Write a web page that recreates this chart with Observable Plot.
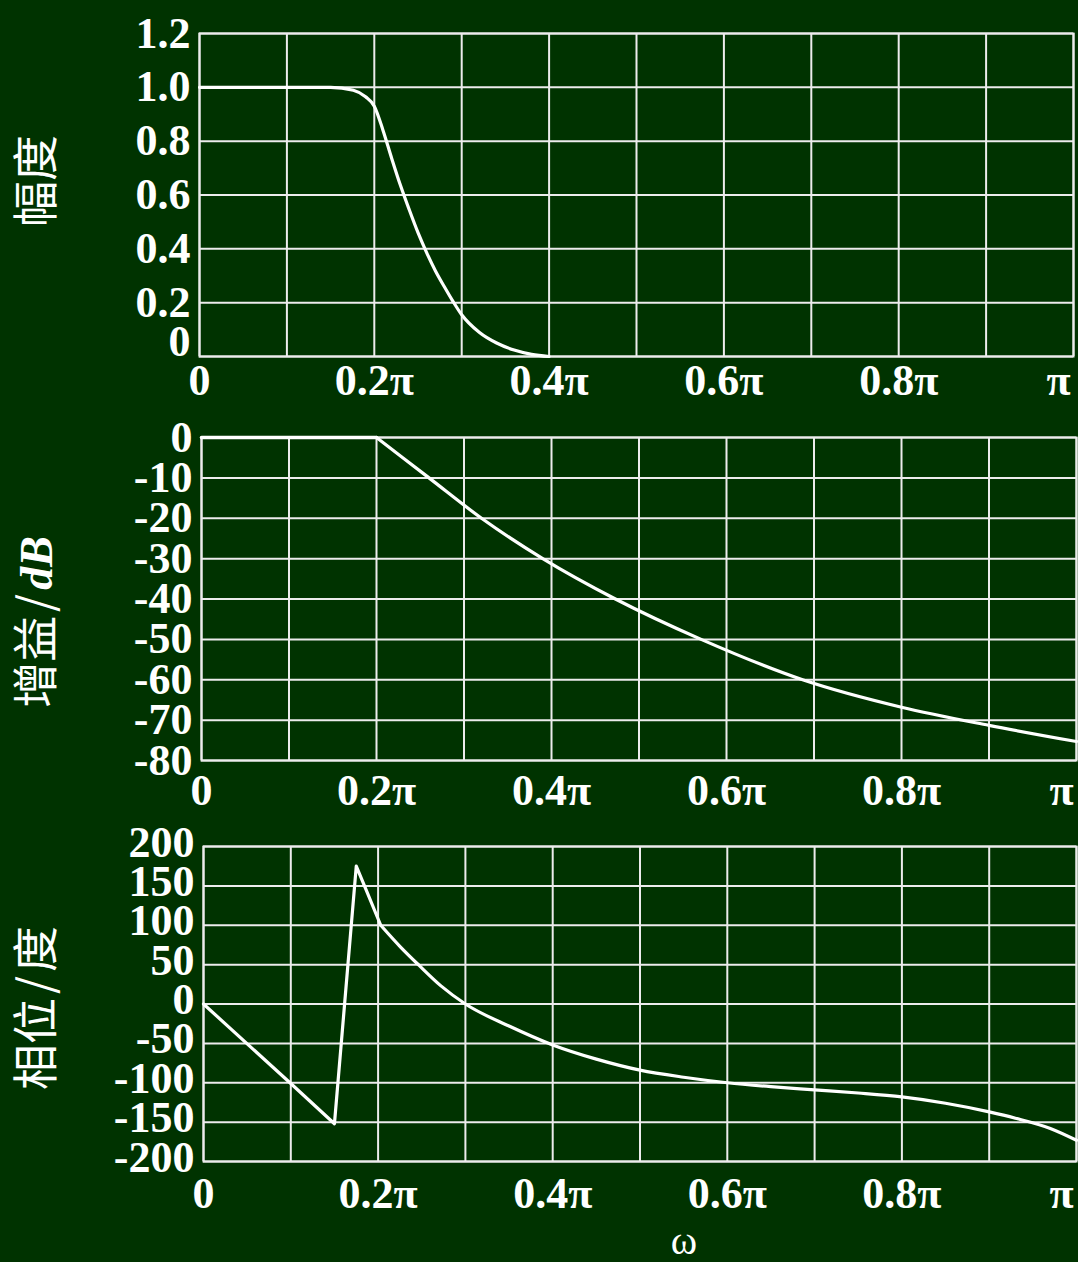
<!DOCTYPE html>
<html>
<head>
<meta charset="utf-8">
<script src="https://cdn.jsdelivr.net/npm/d3@7"></script>
<script src="https://cdn.jsdelivr.net/npm/@observablehq/plot@0.6"></script>
<style>
  html, body { margin: 0; padding: 0; background: #003300; }
  #chart { width: 1078px; height: 1262px; background: #003300; overflow: hidden; }
  #chart svg { display: block; }
</style>
</head>
<body>
<div id="chart"></div>
<script>
// ---------- shared x axis (ω in units of π) ----------
const xTicks = [0, 0.2, 0.4, 0.6, 0.8, 1];
const xTickLabels = ["0", "0.2π", "0.4π", "0.6π", "0.8π", "π"];
const xGrid = [0, 0.1, 0.2, 0.3, 0.4, 0.5, 0.6, 0.7, 0.8, 0.9, 1];
const xAxisTitle = "ω";

// ---------- panel 1: magnitude ----------
const omegaMag = [0, 0.1, 0.15, 0.176, 0.19, 0.2, 0.21, 0.22, 0.23, 0.24, 0.25, 0.26, 0.27, 0.28, 0.29, 0.3, 0.32, 0.34, 0.36, 0.38, 0.4];
const magnitude = [1, 1, 1, 0.989, 0.965, 0.93, 0.84, 0.735, 0.635, 0.545, 0.46, 0.385, 0.318, 0.26, 0.205, 0.155, 0.09, 0.05, 0.024, 0.008, 0];
const magTicks = [0, 0.2, 0.4, 0.6, 0.8, 1.0, 1.2];
const magTickLabels = ["0", "0.2", "0.4", "0.6", "0.8", "1.0", "1.2"];

// ---------- panel 2: gain in dB ----------
const omegaGain = [0, 0.1, 0.2, 0.26, 0.32, 0.39, 0.473, 0.571, 0.687, 0.8, 0.9, 1.0];
const gainDb = [0, 0, 0, -10, -20, -30, -40, -50, -60, -66.8, -71.3, -75.3];
const gainTicks = [0, -10, -20, -30, -40, -50, -60, -70, -80];
const gainTickLabels = ["0", "-10", "-20", "-30", "-40", "-50", "-60", "-70", "-80"];

// ---------- panel 3: phase in degrees ----------
const omegaPhase = [0, 0.1, 0.15, 0.175, 0.187, 0.203, 0.226, 0.247, 0.272, 0.3, 0.35, 0.4, 0.45, 0.5, 0.55, 0.6, 0.65, 0.7, 0.75, 0.8, 0.85, 0.9, 0.93, 0.97, 1.0];
const phaseDeg = [0, -101, -152, 175, 143, 100, 72, 49, 23, 0, -28, -52, -70, -84, -93, -100, -105, -109, -113, -118, -126, -137, -145, -158, -173];
const phaseTicks = [200, 150, 100, 50, 0, -50, -100, -150, -200];
const phaseTickLabels = ["200", "150", "100", "50", "0", "-50", "-100", "-150", "-200"];

const yTitles = ["幅度", "增益/dB", "相位/度"];

// ---------- styling ----------
const BG = "#003300";
const GRID = "#ececec";
const SERIF = "'Liberation Serif', 'Times New Roman', serif";
const CJK = "'Noto Sans CJK SC', 'Noto Sans CJK JP', sans-serif";
const TICK_FS = 44;

function rows(xs, ys) { return xs.map((x, i) => ({x, y: ys[i]})); }

function panel(o) {
  const tickText = {fill: "white", fontFamily: SERIF, fontWeight: "bold", fontSize: TICK_FS};
  const yTickIdx = o.yTicks.map((v, i) => i);
  const marks = [
    Plot.ruleX(xGrid, {stroke: GRID, strokeWidth: 2}),
    Plot.ruleY(o.yTicks, {stroke: GRID, strokeWidth: 2}),
    Plot.frame({stroke: GRID, strokeWidth: 2}),
    ...o.lines,
    // x tick labels
    Plot.text(xTicks.slice(0, -1), {
      x: d => d, text: d => xTickLabels[xTicks.indexOf(d)],
      frameAnchor: "bottom", lineAnchor: "top", dy: o.xPad, ...tickText
    }),
    Plot.text([xTicks[xTicks.length - 1]], {
      x: d => d, text: d => xTickLabels[xTicks.indexOf(d)],
      frameAnchor: "bottom", lineAnchor: "top", textAnchor: "end", dx: -3, dy: o.xPad, ...tickText
    }),
    // y tick labels
    Plot.text(yTickIdx.filter(i => !(o.zeroDy && o.yTicks[i] === 0)), {
      y: i => o.yTicks[i], text: i => o.yTickLabels[i],
      frameAnchor: "left", textAnchor: "end", lineAnchor: "middle", dx: -9, dy: o.yDy || 0, ...tickText
    }),
    // y title
    Plot.text([o.title], {
      text: d => d, frameAnchor: "left", rotate: -90, dx: 37 - o.ml, dy: o.titleDy,
      textAnchor: "middle", lineAnchor: "middle", fill: "white", fontFamily: CJK, fontSize: 46
    })
  ];
  if (o.zeroDy) {
    marks.push(Plot.text(yTickIdx.filter(i => o.yTicks[i] === 0), {
      y: i => o.yTicks[i], text: i => o.yTickLabels[i],
      frameAnchor: "left", textAnchor: "end", lineAnchor: "middle", dx: -9, dy: o.zeroDy, ...tickText
    }));
  }
  if (o.xTitle) {
    marks.push(Plot.text([o.xTitle], {
      text: d => d, frameAnchor: "bottom", dx: 44, dy: 80, lineAnchor: "middle",
      fill: "white", fontFamily: SERIF, fontSize: 40
    }));
  }
  return Plot.plot({
    width: 1078,
    height: o.height,
    marginTop: o.mt, marginBottom: o.mb, marginLeft: o.ml, marginRight: o.mr,
    style: {background: BG, color: "white", overflow: "visible"},
    x: {domain: [0, 1], axis: null},
    y: {domain: o.yDomain, axis: null},
    marks
  });
}

const magData = rows(omegaMag, magnitude);
const gainData = rows(omegaGain, gainDb);
const phaseData = rows(omegaPhase, phaseDeg);

const p1 = panel({
  height: 410, mt: 33, mb: 54, ml: 199, mr: 5,
  yDomain: [0, 1.2], yTicks: magTicks, yTickLabels: magTickLabels,
  zeroDy: -15, xPad: 7, title: yTitles[0], titleDy: -14,
  lines: [Plot.line(magData, {x: "x", y: "y", stroke: "white", strokeWidth: 3.2, curve: "monotone-x"})]
});

const p2 = panel({
  height: 410, mt: 27, mb: 60, ml: 201, mr: 2,
  yDomain: [-80, 0], yTicks: gainTicks, yTickLabels: gainTickLabels,
  xPad: 13, title: yTitles[1], titleDy: 23,
  lines: [
    Plot.line(gainData.filter(d => d.x <= 0.2), {x: "x", y: "y", stroke: "white", strokeWidth: 3.5}),
    Plot.line(gainData.filter(d => d.x >= 0.2), {x: "x", y: "y", stroke: "white", strokeWidth: 3.2, curve: "monotone-x"})
  ]
});

const p3 = panel({
  height: 442, mt: 26, mb: 101, ml: 203, mr: 2,
  yDomain: [-200, 200], yTicks: phaseTicks, yTickLabels: phaseTickLabels,
  yDy: -4, xPad: 15, title: yTitles[2], titleDy: 4, xTitle: xAxisTitle,
  lines: [
    Plot.line(phaseData.filter(d => d.x <= 0.203), {x: "x", y: "y", stroke: "white", strokeWidth: 3.2}),
    Plot.line(phaseData.filter(d => d.x >= 0.203), {x: "x", y: "y", stroke: "white", strokeWidth: 3.2, curve: "monotone-x"})
  ]
});

const chart = document.getElementById("chart");
[p1, p2, p3].forEach(p => chart.appendChild(p));

// titles with a slash: widen the slash, and set "dB" in bold italic serif
[p2, p3].forEach((svg, k) => {
  const title = yTitles[k + 1];
  d3.select(svg).selectAll("text").filter(function () { return this.textContent === title; })
    .each(function () {
      const t = d3.select(this);
      const [a, b] = title.split("/");
      t.text("");
      t.append("tspan").text(a);
      t.append("tspan").attr("dx", 4).text("/");
      const tb = t.append("tspan").attr("dx", 4).text(b);
      if (/^[A-Za-z]+$/.test(b)) {
        tb.attr("font-family", SERIF).attr("font-style", "italic").attr("font-weight", "bold").attr("font-size", 46);
      }
    });
});
</script>
</body>
</html>
